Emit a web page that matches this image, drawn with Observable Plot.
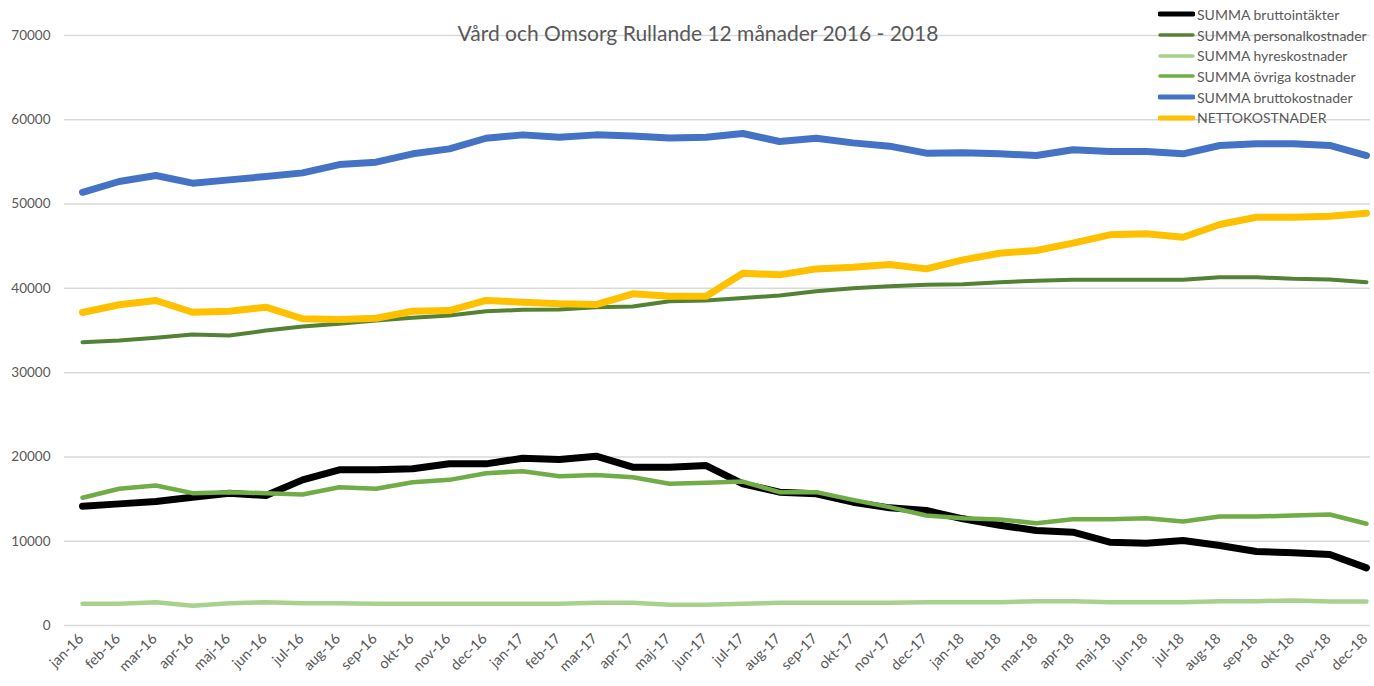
<!DOCTYPE html>
<html>
<head>
<meta charset="utf-8">
<script src="https://cdn.jsdelivr.net/npm/d3@7"></script>
<script src="https://cdn.jsdelivr.net/npm/@observablehq/plot@0.6"></script>
<style>
  body { margin: 0; background: #fff; }
  #wrap { position: relative; width: 1374px; height: 686px; font-family: Lato, "Open Sans", sans-serif; color: #595959; }
  #title { position: absolute; left: 0; width: 1396px; top: 19px; text-align: center; font-size: 21px; line-height: 28px; color: #595959; pointer-events: none; }
  #legend { position: absolute; left: 1158px; top: 4px; font-size: 14px; color: #595959; }
  .row { display: flex; align-items: center; height: 20.7px; }
  .row svg { margin-right: 2px; }
</style>
</head>
<body>
<div id="wrap">
  <div id="chart"></div>
  <div id="title">Vård och Omsorg Rullande 12 månader 2016 - 2018</div>
  <div id="legend"></div>
</div>
<script>
const months = ["jan-16","feb-16","mar-16","apr-16","maj-16","jun-16","jul-16","aug-16","sep-16","okt-16","nov-16","dec-16",
  "jan-17","feb-17","mar-17","apr-17","maj-17","jun-17","jul-17","aug-17","sep-17","okt-17","nov-17","dec-17",
  "jan-18","feb-18","mar-18","apr-18","maj-18","jun-18","jul-18","aug-18","sep-18","okt-18","nov-18","dec-18"];

const seriesNames = ["SUMMA bruttointäkter","SUMMA personalkostnader","SUMMA hyreskostnader","SUMMA övriga kostnader","SUMMA bruttokostnader","NETTOKOSTNADER"];

const bruttointakter = [14160,14430,14710,15220,15700,15420,17280,18470,18470,18590,19180,19180,
  19850,19690,20090,18780,18780,18980,16810,15820,15620,14630,13960,13640,
  12660,11900,11270,11070,9880,9760,10080,9490,8780,8620,8420,6840];
const personalkostnader = [33610,33810,34130,34520,34400,34990,35470,35790,36180,36500,36770,37290,
  37450,37490,37770,37850,38480,38560,38870,39150,39660,40020,40260,40420,
  40500,40730,40890,41010,41010,41010,41010,41320,41320,41130,41050,40730];
const hyreskostnader = [2570,2570,2770,2330,2650,2770,2650,2650,2570,2570,2570,2570,
  2570,2570,2690,2690,2450,2450,2570,2690,2690,2690,2690,2770,
  2770,2770,2890,2890,2770,2770,2770,2890,2890,2970,2850,2850];
const ovrigakostnader = [15150,16220,16610,15700,15820,15700,15540,16410,16220,17000,17280,18070,
  18310,17710,17870,17590,16810,16930,17080,15820,15820,14910,14040,13050,
  12730,12580,12140,12610,12610,12730,12340,12930,12930,13050,13170,12070];
const bruttokostnader = [51400,52680,53390,52480,52870,53270,53700,54690,54970,55960,56550,57810,
  58210,57930,58210,58090,57850,57930,58370,57420,57810,57260,56870,56040,
  56100,55960,55760,56440,56230,56230,55960,56950,57150,57150,56950,55760];
const nettokostnader = [37130,38050,38560,37170,37290,37770,36390,36300,36460,37290,37370,38560,
  38360,38160,38080,39350,39070,39070,41800,41600,42310,42510,42830,42310,
  43380,44170,44490,45360,46350,46470,46070,47570,48440,48440,48560,48920];

const yTicks = [0,10000,20000,30000,40000,50000,60000,70000];

const seriesValues = [bruttointakter, personalkostnader, hyreskostnader, ovrigakostnader, bruttokostnader, nettokostnader];
const colors = ["#000000","#548235","#A9D18E","#70AD47","#4472C4","#FFC000"];
const widths = [7, 4, 4.5, 4.5, 7, 7];
const legendWidths = [5, 3.5, 3.5, 3.5, 5, 5];

const lineMarks = seriesValues.map((vals, k) =>
  Plot.lineY(vals, {x: (d, i) => months[i], y: d => d, stroke: colors[k], strokeWidth: widths[k],
    strokeLinecap: "round", strokeLinejoin: "round"}));

const chart = Plot.plot({
  width: 1374, height: 686,
  marginTop: 35, marginBottom: 61, marginLeft: 64, marginRight: 4,
  x: {type: "point", domain: months, range: [82, 1366], padding: 0, round: false, axis: null},
  y: {domain: [0, 70000]},
  style: {fontFamily: "Lato, 'Open Sans', sans-serif", fontSize: "13.5px", color: "#595959", background: "white"},
  marks: [
    Plot.ruleY(yTicks, {stroke: "#d9d9d9", strokeWidth: 1.5}),
    Plot.axisY(yTicks, {tickSize: 0, tickPadding: 14, tickFormat: d => String(d), label: null}),
    Plot.text(months, {x: d => d, frameAnchor: "bottom", dy: 14, dx: 2, rotate: -45, textAnchor: "end",
      fontSize: 14.5, fill: "#595959"}),
    ...lineMarks
  ]
});
document.getElementById("chart").appendChild(chart);

const legend = document.getElementById("legend");
seriesNames.forEach((name, k) => {
  const row = document.createElement("div");
  row.className = "row";
  row.innerHTML = `<svg width="37" height="10"><line x1="2" y1="5" x2="35" y2="5" stroke="${colors[k]}" stroke-width="${legendWidths[k]}" stroke-linecap="round"/></svg><span>${name}</span>`;
  legend.appendChild(row);
});
</script>
</body>
</html>
